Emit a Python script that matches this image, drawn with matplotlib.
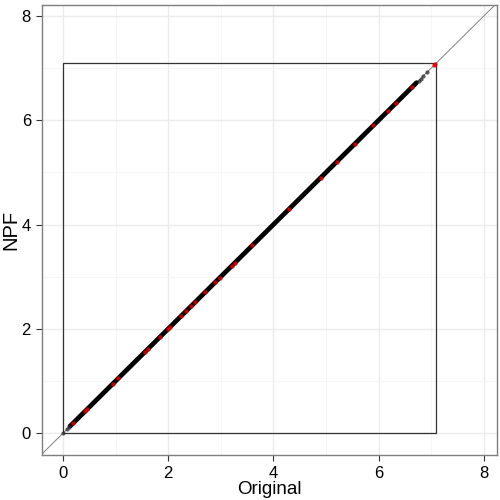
import matplotlib.pyplot as plt
from matplotlib.patches import Rectangle

plt.rcParams['font.family'] = ['Liberation Sans', 'DejaVu Sans']

# dense run of points along the diagonal (original == NPF)
band = [0.13, 6.72]
# sparse black/grey points outside the dense run
sparse_x = [0.0, 0.08, 0.11, 6.76, 6.80, 6.85, 6.92]
sparse_y = [0.0, 0.08, 0.11, 6.76, 6.80, 6.85, 6.92]
# red points
red_x = [0.19, 0.42, 0.46, 0.95, 1.05, 1.55, 1.62, 1.84, 2.00, 2.03, 2.24, 2.34, 2.43,
         2.51, 2.70, 2.89, 2.98, 3.21, 3.27, 3.6, 4.3, 4.9, 5.2, 5.55, 5.9, 6.18,
         6.33, 6.63, 7.05, 7.08]
red_y = red_x
box_max = 7.09

ticks = [0, 2, 4, 6, 8]

fig = plt.figure(figsize=(5, 5), dpi=100)
ax = fig.add_axes([0.084, 0.09, 0.91, 0.90])

ax.set_xlim(-0.40, 8.25)
ax.set_ylim(-0.42, 8.21)

ax.set_xticks(ticks)
ax.set_yticks(ticks)
ax.set_xticks([1, 3, 5, 7], minor=True)
ax.set_yticks([1, 3, 5, 7], minor=True)
ax.grid(which='major', color='#EBEBEB', lw=1.0)
ax.grid(which='minor', color='#F5F5F5', lw=0.6)
ax.set_axisbelow(True)

ax.axline((0, 0), (1, 1), color='#808080', lw=0.7, zorder=2)
ax.add_patch(Rectangle((0, 0), box_max, box_max, fill=False, ec='#333333', lw=0.9, zorder=2))

ax.plot(band, band, color='black', lw=3.4, solid_capstyle='round', zorder=3)
ax.scatter(sparse_x, sparse_y, s=9, color='#333333', alpha=0.8, lw=0, zorder=3)
ax.scatter(red_x, red_y, s=10, color='#E00000', alpha=0.8, lw=0, zorder=4)

for s in ax.spines.values():
    s.set_color('#7F7F7F')
    s.set_linewidth(1.0)
ax.tick_params(which='major', length=4, color='#333333', labelsize=12, labelcolor='black', pad=4)
ax.tick_params(which='minor', length=0)

ax.set_xlabel('Original', fontsize=13.5, labelpad=0)
ax.set_ylabel('NPF', fontsize=14.5, labelpad=1)

fig.savefig('out.png', dpi=100)
